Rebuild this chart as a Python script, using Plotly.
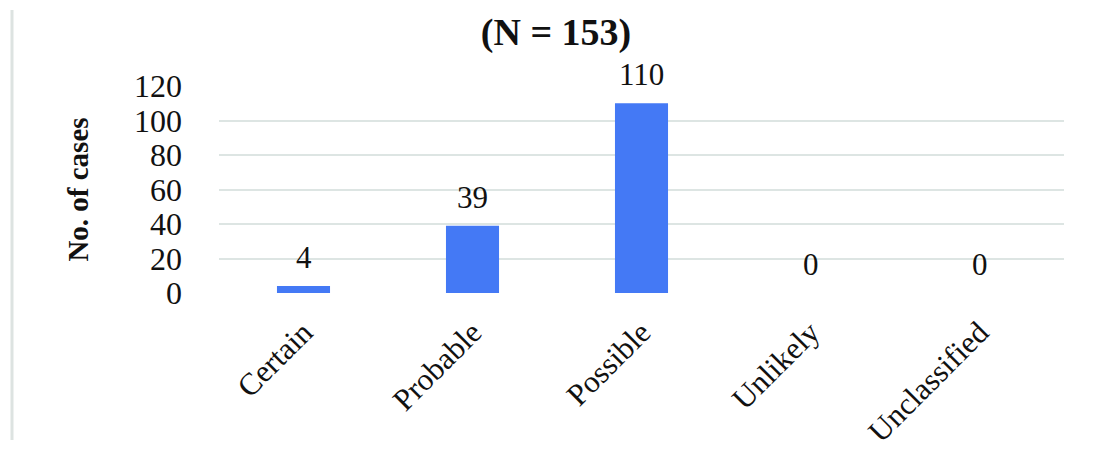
import plotly.graph_objects as go

categories = ["Certain", "Probable", "Possible", "Unlikely", "Unclassified"]
cases = [4, 39, 110, 0, 0]
y_ticks = [0, 20, 40, 60, 80, 100, 120]

W, H = 1097, 450
L, R, T, B = 211, 41, 78, 165
PW, PH = W - L - R, H - T - B
SERIF = "Liberation Serif"

fig = go.Figure(go.Bar(
    x=categories, y=cases,
    marker=dict(color="#4479F5", line=dict(width=0)),
    hoverinfo="x+y",
))

for c, v in zip(categories, cases):
    fig.add_annotation(x=c, y=v, text=str(v), showarrow=False,
                       yanchor="bottom", yshift=9,
                       font=dict(family=SERIF, size=31, color="#111"))

fig.update_layout(
    width=W, height=H,
    margin=dict(l=L, r=R, t=T, b=B, autoexpand=False),
    paper_bgcolor="white", plot_bgcolor="white",
    bargap=0.686,
    showlegend=False,
    title=dict(text="<b>(N = 153)</b>", xref="paper", x=(548 - L) / PW, xanchor="center",
               yref="container", y=1 - 24 / H, yanchor="middle",
               font=dict(family=SERIF, size=38, color="#111")),
    font=dict(family=SERIF, color="#111"),
    shapes=[dict(type="line", xref="paper", yref="paper",
                 x0=(4 - L) / PW, x1=(4 - L) / PW,
                 y0=(H - B - 432) / PH, y1=(H - B - 2) / PH,
                 line=dict(color="#dde3e1", width=3))],
)

fig.update_yaxes(
    range=[0, 120], tickvals=y_ticks, showgrid=True, gridcolor="#dde5e3", gridwidth=2,
    zeroline=False, showline=False, automargin=False,
    tickfont=dict(family=SERIF, size=32, color="#111"),
    ticklabelstandoff=36,
    title=dict(text="<b>No. of cases</b>", font=dict(family=SERIF, size=29, color="#111"),
               standoff=36),
)
fig.update_xaxes(
    tickangle=-45, showline=False, showgrid=False, zeroline=False, automargin=False,
    tickfont=dict(family=SERIF, size=31, color="#111"),
    ticklabelstandoff=14,
)

fig.write_html("out.html")
